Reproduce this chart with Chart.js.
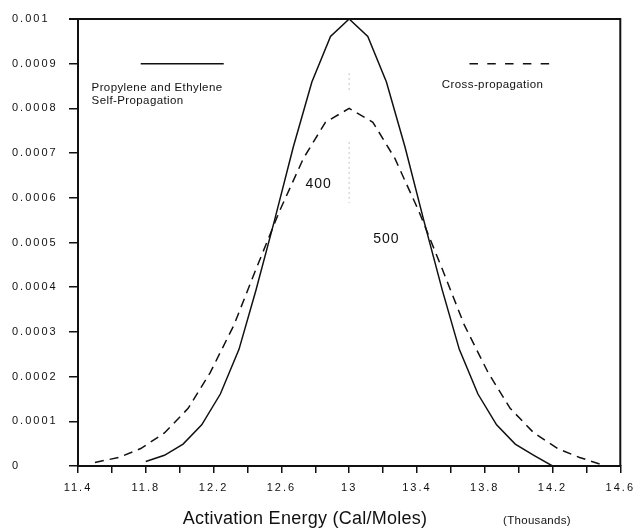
<!DOCTYPE html>
<html>
<head>
<meta charset="utf-8">
<script src="https://cdn.jsdelivr.net/npm/chart.js@4.4.1/dist/chart.umd.min.js"></script>
<style>
  html, body { margin: 0; padding: 0; background: #fff; }
  canvas { display: block; }
</style>
</head>
<body>
<canvas id="c" width="639" height="529"></canvas>
<script>
// ---- Data ----
const selfX = [11.8, 11.91, 12.02, 12.13, 12.24, 12.35, 12.45, 12.56, 12.67, 12.78, 12.89, 13, 13.11, 13.22, 13.33, 13.44, 13.55, 13.65, 13.76, 13.87, 13.98, 14.09, 14.2];
const selfY = [0.00001, 0.000024, 0.000049, 0.000092, 0.000161, 0.000261, 0.000393, 0.00055, 0.000713, 0.000859, 0.000961, 0.001, 0.000961, 0.000859, 0.000713, 0.00055, 0.000393, 0.000261, 0.000161, 0.000092, 0.000049, 0.000024, 0];

const crossX = [11.5, 11.64, 11.77, 11.91, 12.05, 12.18, 12.32, 12.45, 12.59, 12.73, 12.86, 13, 13.14, 13.27, 13.41, 13.55, 13.68, 13.82, 13.95, 14.09, 14.23, 14.36, 14.5];
const crossY = [0.000008, 0.000019, 0.000039, 0.000074, 0.000129, 0.000209, 0.000315, 0.00044, 0.000571, 0.000688, 0.000769, 0.0008, 0.000769, 0.000688, 0.000571, 0.00044, 0.000315, 0.000209, 0.000129, 0.000074, 0.000039, 0.000019, 0.000002];

const seriesNames = ['Propylene and Ethylene Self-Propagation', 'Cross-propagation'];

const xTickValues = [11.4, 11.6, 11.8, 12.0, 12.2, 12.4, 12.6, 12.8, 13.0, 13.2, 13.4, 13.6, 13.8, 14.0, 14.2, 14.4, 14.6];
const xTickLabels = ['11.4', '', '11.8', '', '12.2', '', '12.6', '', '13', '', '13.4', '', '13.8', '', '14.2', '', '14.6'];
const yTickValues = [0, 0.0001, 0.0002, 0.0003, 0.0004, 0.0005, 0.0006, 0.0007, 0.0008, 0.0009, 0.001];
const yTickLabels = ['0', '0.0001', '0.0002', '0.0003', '0.0004', '0.0005', '0.0006', '0.0007', '0.0008', '0.0009', '0.001'];

const xTitle = 'Activation Energy (Cal/Moles)';
const xUnit = '(Thousands)';
const sigmaLabels = ['400', '500'];

// ---- Chart ----
const INK = '#111';
const FONT = "'Liberation Sans', Arial, Helvetica, sans-serif";

const decorPlugin = {
  id: 'decor',
  beforeDraw(chart) {
    chart.ctx.letterSpacing = '2px';
  },
  afterDraw(chart) {
    const ctx = chart.ctx;
    const a = chart.chartArea;
    const xs = chart.scales.x, ys = chart.scales.y;
    const px = v => xs.getPixelForValue(v);
    const py = v => ys.getPixelForValue(v);
    ctx.save();
    ctx.letterSpacing = '0px';
    // frame top & right
    ctx.strokeStyle = INK;
    ctx.lineWidth = 2;
    ctx.beginPath();
    ctx.moveTo(a.left - 9, a.top);
    ctx.lineTo(a.right, a.top);
    ctx.lineTo(a.right, a.bottom);
    ctx.stroke();

    // legend samples
    ctx.lineWidth = 1.5;
    ctx.beginPath();
    ctx.moveTo(px(11.77), py(0.0009));
    ctx.lineTo(px(12.26), py(0.0009));
    ctx.stroke();
    ctx.setLineDash([8.5, 9.3]);
    ctx.beginPath();
    ctx.moveTo(px(13.71), py(0.0009));
    ctx.lineTo(px(14.18), py(0.0009));
    ctx.stroke();
    ctx.setLineDash([]);

    // faint dotted centre line
    ctx.strokeStyle = '#c4c4c4';
    ctx.lineWidth = 1;
    ctx.setLineDash([2, 3]);
    ctx.beginPath();
    ctx.moveTo(px(13), py(0.000879)); ctx.lineTo(px(13), py(0.000834));
    ctx.moveTo(px(13), py(0.000725)); ctx.lineTo(px(13), py(0.000588));
    ctx.stroke();
    ctx.setLineDash([]);

    // legend texts
    ctx.fillStyle = INK;
    ctx.textBaseline = 'middle';
    ctx.textAlign = 'left';
    ctx.font = '11.5px ' + FONT;
    ctx.letterSpacing = '0.4px';
    ctx.fillText('Propylene and Ethylene', px(11.48), py(0.000846));
    ctx.fillText('Self-Propagation', px(11.48), py(0.000817));
    ctx.fillText(seriesNames[1], px(13.547), py(0.000852));

    // sigma labels
    ctx.font = '14px ' + FONT;
    ctx.letterSpacing = '1px';
    ctx.textAlign = 'center';
    ctx.fillText(sigmaLabels[0], px(12.82), py(0.00063));
    ctx.fillText(sigmaLabels[1], px(13.22), py(0.000507));

    // axis title
    ctx.textBaseline = 'alphabetic';
    ctx.font = '18px ' + FONT;
    ctx.letterSpacing = '0.25px';
    ctx.fillText(xTitle, 305, 524);
    ctx.font = '11.5px ' + FONT;
    ctx.letterSpacing = '0.3px';
    ctx.fillText(xUnit, 537, 524);
    ctx.restore();
    ctx.letterSpacing = '0px';
  }
};

new Chart(document.getElementById('c'), {
  type: 'line',
  data: {
    datasets: [
      {
        label: seriesNames[0],
        data: selfX.map((x, i) => ({ x, y: selfY[i] })),
        borderColor: INK,
        borderWidth: 1.5,
        pointRadius: 0,
        tension: 0,
        fill: false
      },
      {
        label: seriesNames[1],
        data: crossX.map((x, i) => ({ x, y: crossY[i] })),
        borderColor: INK,
        borderWidth: 1.5,
        borderDash: [9, 6],
        pointRadius: 0,
        tension: 0,
        fill: false
      }
    ]
  },
  options: {
    responsive: false,
    animation: false,
    events: [],
    layout: { padding: { left: 12, top: 19, right: 17, bottom: 0 } },
    plugins: { legend: { display: false }, tooltip: { enabled: false }, title: { display: false } },
    scales: {
      x: {
        type: 'linear',
        min: 11.4,
        max: 14.6,
        afterBuildTicks: s => { s.ticks = xTickValues.map(v => ({ value: v })); },
        afterFit: s => { s.height = 63; },
        ticks: {
          autoSkip: false,
          maxRotation: 0,
          padding: 8,
          color: INK,
          font: { family: FONT, size: 11 },
          callback: (v, i) => xTickLabels[i]
        },
        grid: { drawOnChartArea: false, drawTicks: true, tickLength: 7, color: INK, lineWidth: 1.5 },
        border: { display: true, color: INK, width: 2 }
      },
      y: {
        type: 'linear',
        min: 0,
        max: 0.001,
        afterBuildTicks: s => { s.ticks = yTickValues.map(v => ({ value: v })); },
        afterFit: s => { s.width = 66; },
        ticks: {
          autoSkip: false,
          crossAlign: 'far',
          color: INK,
          font: { family: FONT, size: 11 },
          callback: (v, i) => yTickLabels[i]
        },
        grid: { drawOnChartArea: false, drawTicks: true, tickLength: 9, color: INK, lineWidth: 1.5 },
        border: { display: true, color: INK, width: 2 }
      }
    }
  },
  plugins: [decorPlugin]
});
</script>
</body>
</html>
